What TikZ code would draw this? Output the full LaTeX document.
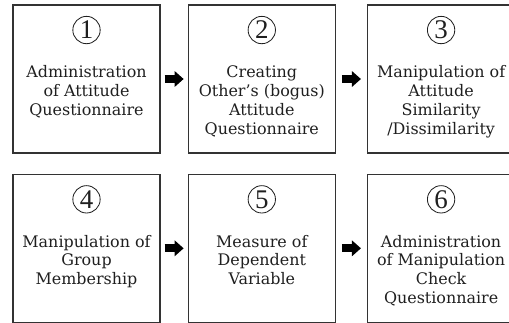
\documentclass[tikz,border=0pt]{standalone}
\usepackage{fontspec}
\setmainfont{DejaVu Serif}
\newfontfamily\numfont{Liberation Serif}
\usepackage{tikz}
\usetikzlibrary{arrows.meta, positioning}
\definecolor{myline}{rgb}{0.2, 0.2, 0.2}
\definecolor{mytext}{rgb}{0.12, 0.12, 0.12}
\tikzstyle{stage} = [draw=myline, line width=1.1pt, minimum width=4.41cm, minimum height=4.44cm, inner sep=0pt]
\tikzstyle{num} = [circle, draw=mytext, line width=0.7pt, minimum size=0.82cm, inner sep=0pt, text=mytext, font=\numfont\fontsize{23}{23}\selectfont]
\tikzstyle{steptext} = [anchor=north, align=center, inner sep=0pt, text=mytext, font=\fontsize{13.6}{16.1}\selectfont]
\tikzstyle{arrow} = [line width=0.24cm, black, -{Triangle[length=0.27cm,width=0.46cm]}, shorten <=0.12cm, shorten >=0.12cm]

\begin{document}
\begin{tikzpicture}[x=0.03cm, y=-0.03cm]
\useasboundingbox (0,0) rectangle (509,322);
\clip (0,0) rectangle (509,322);

% the six stages, two rows of three
\node[stage] (b1) at (86.5,79) {};
\node[stage, right=0.81cm of b1] (b2) {};
\node[stage, right=0.93cm of b2] (b3) {};
\node[stage, below=0.6cm of b1] (b4) {};
\node[stage, right=0.81cm of b4] (b5) {};
\node[stage, right=0.93cm of b5] (b6) {};

% circled step numbers
\foreach \i in {1,...,6}
  \node[num] (n\i) at ([yshift=-0.77cm]b\i.north) {\i};

\node[steptext] (t1) at ([yshift=-1.83cm]b1.north) {Administration\\of Attitude\\Questionnaire};
\node[steptext] (t2) at ([yshift=-1.83cm]b2.north) {Creating\\Other’s (bogus)\\Attitude\\Questionnaire};
\node[steptext] (t3) at ([yshift=-1.83cm]b3.north) {Manipulation of\\Attitude\\Similarity\\/Dissimilarity};
\node[steptext] (t4) at ([yshift=-1.83cm]b4.north) {Manipulation of\\Group\\Membership};
\node[steptext] (t5) at ([yshift=-1.83cm]b5.north) {Measure of\\Dependent\\Variable};
\node[steptext] (t6) at ([yshift=-1.83cm]b6.north) {Administration\\of Manipulation\\Check\\Questionnaire};

\draw[arrow] (b1) -- (b2);
\draw[arrow, shorten <=0.18cm, shorten >=0.18cm] (b2) -- (b3);
\draw[arrow] (b4) -- (b5);
\draw[arrow, shorten <=0.18cm, shorten >=0.18cm] (b5) -- (b6);
\end{tikzpicture}
\end{document}
